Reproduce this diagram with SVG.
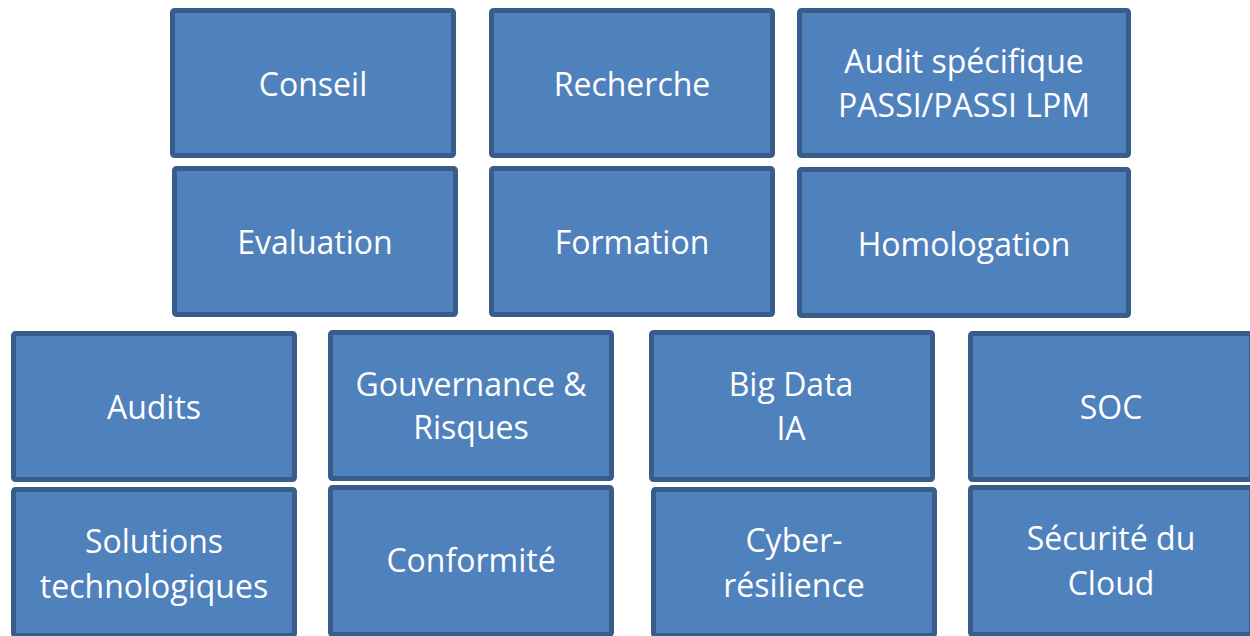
<svg xmlns="http://www.w3.org/2000/svg" width="1250" height="636" viewBox="0 0 1250 636">
<style>
.box{fill:#4F81BD;stroke:#385D8A;stroke-width:5;}
.t{font-family:"Open Sans","Liberation Sans",sans-serif;font-size:32px;fill:#FFFFFF;text-anchor:middle;}
</style>
<rect width="1250" height="636" fill="#FFFFFF"/>
<g id="conseil"><rect class="box" x="172.5" y="10.5" width="281" height="145" rx="2"/><text class="t" x="313" y="96">Conseil</text></g>
<g id="recherche"><rect class="box" x="491.5" y="10.5" width="281" height="145" rx="2"/><text class="t" x="632" y="96">Recherche</text></g>
<g id="audit-specifique"><rect class="box" x="799.5" y="10.5" width="329" height="145" rx="2"/><text class="t" x="964" y="73">Audit spécifique</text><text class="t" x="964" y="117">PASSI/PASSI LPM</text></g>
<g id="evaluation"><rect class="box" x="174.5" y="168.5" width="281" height="146" rx="2"/><text class="t" x="315" y="254">Evaluation</text></g>
<g id="formation"><rect class="box" x="491.5" y="168.5" width="281" height="146" rx="2"/><text class="t" x="632" y="254">Formation</text></g>
<g id="homologation"><rect class="box" x="799.5" y="169.5" width="329" height="146" rx="2"/><text class="t" x="964" y="256">Homologation</text></g>
<g id="audits"><rect class="box" x="13.5" y="333.5" width="281" height="146" rx="2"/><text class="t" x="154" y="419">Audits</text></g>
<g id="gouvernance"><rect class="box" x="330.5" y="332.5" width="281" height="146" rx="2"/><text class="t" x="471" y="396">Gouvernance &amp;</text><text class="t" x="471" y="439">Risques</text></g>
<g id="bigdata"><rect class="box" x="651.5" y="332.5" width="281" height="147" rx="2"/><text class="t" x="791" y="396">Big Data</text><text class="t" x="791" y="440">IA</text></g>
<g id="soc"><rect class="box" x="970.5" y="333.5" width="281" height="146" rx="2"/><text class="t" x="1111" y="419">SOC</text></g>
<g id="solutions"><rect class="box" x="13.5" y="489.5" width="281" height="146" rx="2"/><text class="t" x="154" y="553">Solutions</text><text class="t" x="154" y="598">technologiques</text></g>
<g id="conformite"><rect class="box" x="330.5" y="487.5" width="281" height="147" rx="2"/><text class="t" x="471" y="572">Conformité</text></g>
<g id="cyber"><rect class="box" x="653.5" y="489.5" width="281" height="146" rx="2"/><text class="t" x="794" y="552">Cyber-</text><text class="t" x="794" y="597">résilience</text></g>
<g id="securite-cloud"><rect class="box" x="970.5" y="487.5" width="281" height="147" rx="2"/><text class="t" x="1111" y="550">Sécurité du</text><text class="t" x="1111" y="595">Cloud</text></g>
<g id="connectors"></g>
</svg>
